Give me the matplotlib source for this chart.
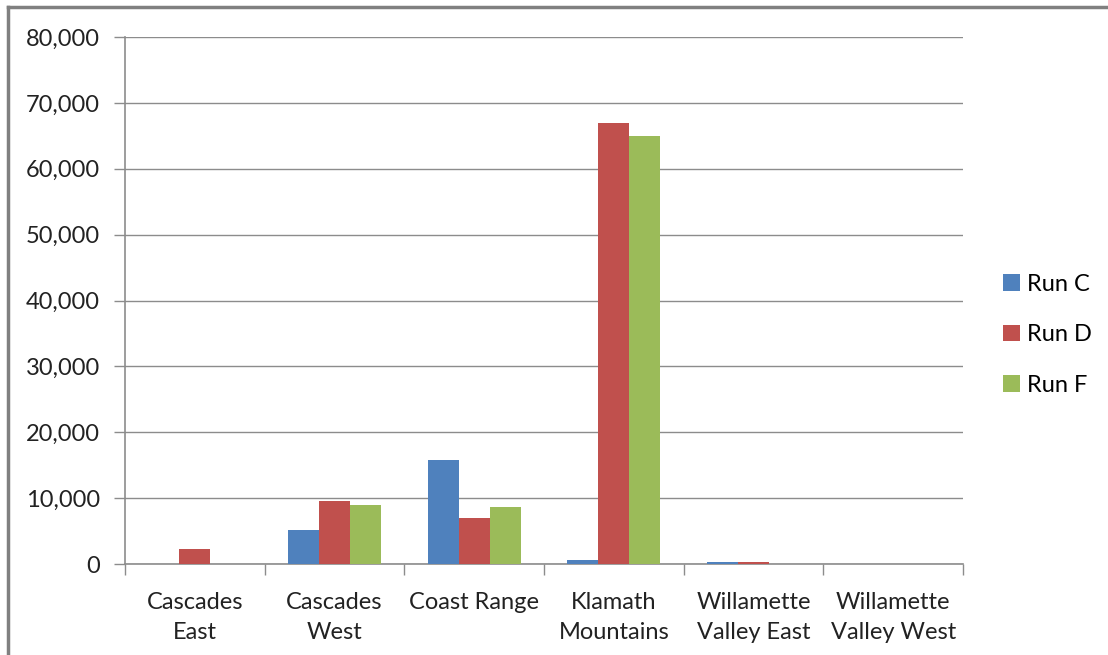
import matplotlib.pyplot as plt
import numpy as np
from matplotlib.lines import Line2D
from matplotlib.ticker import FuncFormatter, MultipleLocator

plt.rcParams["font.family"] = ["Lato", "DejaVu Sans"]

regions = ["Cascades\nEast", "Cascades\nWest", "Coast Range", "Klamath\nMountains",
           "Willamette\nValley East", "Willamette\nValley West"]
run_c = [0, 5100, 15800, 600, 250, 0]
run_d = [2350, 9600, 6950, 67000, 250, 0]
run_f = [0, 9000, 8700, 65000, 0, 0]

series = [("Run C", run_c, "#4F81BD"),
          ("Run D", run_d, "#C0504D"),
          ("Run F", run_f, "#9BBB59")]

fig = plt.figure(figsize=(11.08, 6.55), dpi=100)
ax = fig.add_axes([0.1128, 0.1389, 0.8691 - 0.1128, 0.9435 - 0.1389])

x = np.arange(len(regions))
width = 1 / 4.5
for i, (name, vals, color) in enumerate(series):
    ax.bar(x + (i - 1) * width, vals, width, color=color, label=name, zorder=3,
           edgecolor="none")

ax.set_xlim(-0.5, len(regions) - 0.5)
ax.set_ylim(0, 80000)
ax.yaxis.set_major_locator(MultipleLocator(10000))
ax.yaxis.set_major_formatter(FuncFormatter(lambda v, p: f"{int(v):,}"))
ax.grid(axis="y", color="#8c8c8c", linewidth=1.0, zorder=0)

# category ticks sit at the group boundaries, labels centred under groups
ax.set_xticks(np.arange(len(regions) + 1) - 0.5)
ax.set_xticklabels([])
ax.set_xticks(x, minor=True)
ax.set_xticklabels(regions, minor=True, fontsize=17, color="#222222", linespacing=1.55)
ax.tick_params(axis="x", which="minor", length=0, pad=20)
ax.tick_params(axis="x", which="major", length=8, width=1.0, color="#8c8c8c")
ax.tick_params(axis="y", length=8, width=1.0, color="#8c8c8c", labelsize=17,
               labelcolor="#222222", pad=10)

for side in ["top", "right"]:
    ax.spines[side].set_visible(False)
for side in ["left", "bottom"]:
    ax.spines[side].set_color("#8c8c8c")
    ax.spines[side].set_linewidth(1.2)

ax.legend(loc="center left", bbox_to_anchor=(1.023, 0.435), frameon=False,
          fontsize=17, handlelength=0.7, handleheight=0.7, handletextpad=0.3,
          labelspacing=1.25)

# outer chart border
fig.add_artist(Line2D([8 / 1108, 8 / 1108], [0, 1 - 7 / 655], transform=fig.transFigure,
                      color="#808080", linewidth=2.5))
fig.add_artist(Line2D([8 / 1108, 1], [1 - 7 / 655, 1 - 7 / 655], transform=fig.transFigure,
                      color="#808080", linewidth=2.5))

fig.savefig("out.png", dpi=100, facecolor="white")
